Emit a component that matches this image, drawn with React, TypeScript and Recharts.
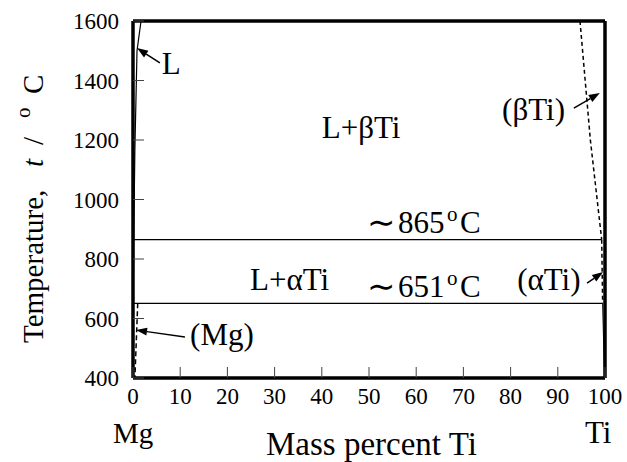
import { LineChart, Line, XAxis, YAxis, ReferenceLine, ReferenceDot } from "recharts";

const xTicks = [0, 10, 20, 30, 40, 50, 60, 70, 80, 90, 100];
const yTicks = [400, 600, 800, 1000, 1200, 1400, 1600];

// phase boundaries (mass % Ti, °C)
const liquidusMg = [
  { x: 0.05, t: 651 },
  { x: 0.15, t: 865 },
  { x: 0.4, t: 1170 },
  { x: 0.85, t: 1500 },
  { x: 1.7, t: 1600 },
];
const solvusMg = [
  { x: 1.0, t: 651 },
  { x: 0.4, t: 400 },
];
const solvusBetaTi = [
  { x: 94.7, t: 1600 },
  { x: 96.9, t: 1200 },
  { x: 99.3, t: 865 },
];
const solvusAlphaTi = [
  { x: 99.3, t: 865 },
  { x: 99.5, t: 651 },
];
const solvusAlphaLow = [
  { x: 99.5, t: 651 },
  { x: 99.9, t: 400 },
];
const peritectic = [
  { x: 0, t: 865 },
  { x: 99.3, t: 865 },
];
const eutectic = [
  { x: 0, t: 651 },
  { x: 99.5, t: 651 },
];

// annotation arrows: [from, to]
const arrows = [
  [{ x: 5.7, t: 1459 }, { x: 0.85, t: 1509 }],
  [{ x: 11.0, t: 538 }, { x: 0.64, t: 561 }],
  [{ x: 93.4, t: 1307 }, { x: 98.9, t: 1358 }],
  [{ x: 96.2, t: 719 }, { x: 99.6, t: 756 }],
];

// region labels: text, start of text and baseline in data units
const labels = [
  { text: "L", x: 6.1, t: 1422 },
  { text: "L+βTi", x: 40.0, t: 1207 },
  { text: "L+αTi", x: 24.8, t: 696 },
  { text: "(Mg)", x: 12.1, t: 511 },
  { text: "(βTi)", x: 78.2, t: 1267 },
  { text: "(αTi)", x: 81.4, t: 696 },
];
const temps = [
  { text: "865", x: 49.6, t: 887 },
  { text: "651", x: 49.6, t: 672 },
];

const FONT = "Liberation Serif";

function XTick(props: any) {
  const { x, y, payload } = props;
  return (
    <g>
      <line x1={x} y1={y} x2={x} y2={y - 11} stroke="#444" strokeWidth={1} />
      <text x={x} y={y + 26} textAnchor="middle" fontSize={23} fontFamily={FONT} fill="#000">
        {payload.value}
      </text>
    </g>
  );
}

function YTickLeft(props: any) {
  const { x, y, payload } = props;
  return (
    <g>
      <line x1={x} y1={y} x2={x + 11} y2={y} stroke="#444" strokeWidth={1} />
      <text x={x - 14} y={y + 8} textAnchor="end" fontSize={23} fontFamily={FONT} fill="#000">
        {payload.value}
      </text>
    </g>
  );
}

function YTickRight(props: any) {
  const { x, y } = props;
  return <line x1={x} y1={y} x2={x - 11} y2={y} stroke="#444" strokeWidth={1} />;
}

function Arrow(props: any) {
  const { x1, y1, x2, y2 } = props;
  if ([x1, y1, x2, y2].some((v) => v == null || isNaN(v))) return null;
  const a = Math.atan2(y2 - y1, x2 - x1);
  const len = 11;
  const hw = 4;
  const bx = x2 - len * Math.cos(a);
  const by = y2 - len * Math.sin(a);
  const px = -Math.sin(a) * hw;
  const py = Math.cos(a) * hw;
  return (
    <g>
      <line x1={x1} y1={y1} x2={bx} y2={by} stroke="#000" strokeWidth={1.5} />
      <polygon points={`${x2},${y2} ${bx + px},${by + py} ${bx - px},${by - py}`} fill="#000" />
    </g>
  );
}

export default function App() {
  return (
    <div style={{ position: "absolute", left: 0, top: 0, width: 627, height: 462, background: "#fff", fontFamily: FONT }}>
      <LineChart width={627} height={462} margin={{ top: 20, right: 21, bottom: 83, left: 132 }} style={{ fontFamily: FONT }}>
        <XAxis
          dataKey="x"
          type="number"
          domain={[0, 100]}
          ticks={xTicks}
          allowDataOverflow
          height={1}
          tickSize={0}
          tickMargin={0}
          tickLine={false}
          axisLine={{ stroke: "#000", strokeWidth: 3.5 }}
          tick={<XTick />}
          interval={0}
        />
        <XAxis xAxisId="top" orientation="top" dataKey="x" type="number" domain={[0, 100]} height={1} tick={false} tickLine={false} axisLine={{ stroke: "#000", strokeWidth: 3.5 }} />
        <YAxis
          type="number"
          domain={[400, 1600]}
          ticks={yTicks}
          allowDataOverflow
          width={1}
          tickSize={0}
          tickMargin={0}
          tickLine={false}
          axisLine={{ stroke: "#000", strokeWidth: 3.5 }}
          tick={<YTickLeft />}
          interval={0}
        />
        <YAxis
          yAxisId="right"
          orientation="right"
          type="number"
          domain={[400, 1600]}
          ticks={yTicks}
          width={1}
          tickSize={0}
          tickMargin={0}
          tickLine={false}
          axisLine={{ stroke: "#000", strokeWidth: 3.5 }}
          tick={<YTickRight />}
          interval={0}
        />
        <Line data={peritectic} dataKey="t" stroke="#000" strokeWidth={1.2} dot={false} isAnimationActive={false} />
        <Line data={eutectic} dataKey="t" stroke="#000" strokeWidth={1.2} dot={false} isAnimationActive={false} />
        <Line data={liquidusMg} dataKey="t" stroke="#000" strokeWidth={1.2} dot={false} isAnimationActive={false} />
        <Line data={solvusMg} dataKey="t" stroke="#000" strokeWidth={1.5} strokeDasharray="5 3" dot={false} isAnimationActive={false} />
        <Line data={solvusBetaTi} dataKey="t" stroke="#000" strokeWidth={1.5} strokeDasharray="4 3" dot={false} isAnimationActive={false} />
        <Line data={solvusAlphaTi} dataKey="t" stroke="#000" strokeWidth={1.5} strokeDasharray="4 3" dot={false} isAnimationActive={false} />
        <Line data={solvusAlphaLow} dataKey="t" stroke="#000" strokeWidth={1} dot={false} isAnimationActive={false} />
        {arrows.map((seg, i) => (
          <ReferenceLine
            key={"a" + i}
            segment={[
              { x: seg[0].x, y: seg[0].t },
              { x: seg[1].x, y: seg[1].t },
            ]}
            ifOverflow="visible"
            shape={<Arrow />}
          />
        ))}
        {labels.map((l, i) => (
          <ReferenceDot
            key={"l" + i}
            x={l.x}
            y={l.t}
            r={0}
            ifOverflow="visible"
            shape={(p: any) => (
              <text x={p.cx} y={p.cy} fontSize={31} fontFamily={FONT} fill="#000">
                {l.text}
              </text>
            )}
          />
        ))}
        {temps.map((l, i) => (
          <ReferenceDot
            key={"t" + i}
            x={l.x}
            y={l.t}
            r={0}
            ifOverflow="visible"
            shape={(p: any) => (
              <text x={p.cx} y={p.cy} fontSize={31} fontFamily={FONT} fill="#000">
                <tspan x={p.cx} fontSize={34} dy={1}>∼</tspan>
                <tspan x={p.cx + 31} dy={-1}>{l.text}</tspan>
                <tspan x={p.cx + 80} dy={-12} fontSize={21}>o</tspan>
                <tspan x={p.cx + 93} dy={12}>C</tspan>
              </text>
            )}
          />
        ))}
      </LineChart>
      <svg width={627} height={462} style={{ position: "absolute", left: 0, top: 0, pointerEvents: "none" }}>
        <g fontFamily={FONT} fill="#000">
          <text x={113} y={443} fontSize={29}>Mg</text>
          <text x={585} y={443} fontSize={31}>Ti</text>
          <text x={266} y={455} fontSize={33}>Mass percent Ti</text>
          <text transform="translate(43,343) rotate(-90)" fontSize={29}>
            <tspan x={0}>Temperature,</tspan>
            <tspan x={176} fontStyle="italic">t</tspan>
            <tspan x={198}>/</tspan>
            <tspan x={225} dy={-13} fontSize={21}>o</tspan>
            <tspan x={249} dy={13}>C</tspan>
          </text>
        </g>
      </svg>
    </div>
  );
}
